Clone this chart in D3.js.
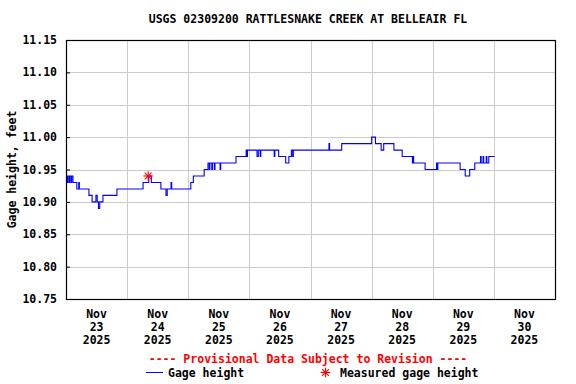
<!DOCTYPE html>
<html>
<head>
<meta charset="utf-8">
<script src="https://cdn.jsdelivr.net/npm/d3@7"></script>
<style>
  body { margin: 0; background: #fff; }
  text { font-family: "DejaVu Sans Mono", monospace; font-weight: bold; font-size: 11.5px; fill: #000; }
</style>
</head>
<body>
<div id="chart"></div>
<script>
// Gage height, read off the plot as step changes
// hours after Nov 23 2025 00:00 -> feet
var stepHours = [0, 0.5, 0.75, 1.25, 1.5, 2, 2.25, 2.75, 4.25, 5, 5.25, 9, 10.25, 11.75, 12.25, 12.75, 13.25, 14.5,
  20, 30.25, 32.5, 33.5, 37.25, 39.25, 39.75, 41.25, 41.5, 49, 50, 54.25, 55.75, 56.25, 56.5, 57.25, 57.5,
  58.25, 58.5, 60.5, 60.75, 66.75, 70.75, 71, 71.25, 75, 75.5, 76.25, 76.5, 81.75, 82, 83.5, 86.25, 87.5,
  88.5, 89, 89.25, 103.25, 103.5, 108.25, 120, 121.5, 123.75, 124.75, 128.75, 132, 136, 136.25, 136.5, 141,
  145.5, 145.75, 146, 154.5, 154.75, 156.75, 158.5, 160.5, 162.75, 163, 163.75, 164, 165, 165.25, 166, 168.25];
var stepValues = [10.94, 10.93, 10.94, 10.93, 10.94, 10.93, 10.94, 10.93, 10.92, 10.93, 10.92, 10.91, 10.90, 10.91, 10.90, 10.89, 10.90, 10.91,
  10.92, 10.93, 10.94, 10.93, 10.92, 10.91, 10.92, 10.93, 10.92, 10.93, 10.94, 10.95, 10.96, 10.95, 10.96, 10.95, 10.96,
  10.95, 10.96, 10.95, 10.96, 10.97, 10.98, 10.97, 10.98, 10.97, 10.98, 10.97, 10.98, 10.97, 10.98, 10.97, 10.96, 10.97,
  10.98, 10.97, 10.98, 10.99, 10.98, 10.99, 11.00, 10.99, 10.98, 10.99, 10.98, 10.97, 10.96, 10.97, 10.96, 10.95,
  10.96, 10.95, 10.96, 10.96, 10.95, 10.94, 10.95, 10.96, 10.97, 10.96, 10.97, 10.96, 10.97, 10.96, 10.97, 10.97];

// field measurement
var measuredHours = [32.25];
var measuredValues = [10.94];

var yTicks = [10.75, 10.80, 10.85, 10.90, 10.95, 11.00, 11.05, 11.10, 11.15];
var dayLabels = ["23", "24", "25", "26", "27", "28", "29", "30"];

var title = "USGS 02309200 RATTLESNAKE CREEK AT BELLEAIR FL";

// Placement
var width = 576, height = 384,
  mLeft = 66, mRight = 21, mTop = 40, mBottom = 85,
  plotW = width - mLeft - mRight,
  plotH = height - mTop - mBottom;

var t0 = new Date(2025, 10, 23);
function hoursToDate(h) { return new Date(t0.getTime() + h * 3600e3); }

var x = d3.scaleTime()
  .domain([t0, new Date(2025, 11, 1)])
  .range([0, plotW]);
var y = d3.scaleLinear()
  .domain([10.75, 11.15])
  .range([plotH, 0]);

var svg = d3.select("#chart")
  .append("svg")
  .attr("width", width)
  .attr("height", height);

svg.append("text")
  .attr("x", 308)
  .attr("y", 23)
  .attr("text-anchor", "middle")
  .text(title);

var plot = svg.append("g")
  .attr("transform", "translate(" + mLeft + "," + mTop + ")");

// grid
var midnights = d3.timeDay.range(d3.timeDay.offset(t0, 1), new Date(2025, 11, 1));
plot.append("g").selectAll("line")
  .data(midnights)
  .enter().append("line")
  .attr("x1", function(d) { return Math.round(x(d)) + 0.5; })
  .attr("x2", function(d) { return Math.round(x(d)) + 0.5; })
  .attr("y1", 0)
  .attr("y2", plotH)
  .attr("stroke", "#cccccc");

plot.append("g").selectAll("line")
  .data(yTicks.slice(1, -1))
  .enter().append("line")
  .attr("x1", 0)
  .attr("x2", plotW)
  .attr("y1", function(d) { return Math.round(y(d)) + 0.5; })
  .attr("y2", function(d) { return Math.round(y(d)) + 0.5; })
  .attr("stroke", "#cccccc");

// y axis (ticks pointing inward)
var yAxis = d3.axisRight(y)
  .tickValues(yTicks)
  .tickSize(4)
  .tickFormat("");
var yg = plot.append("g").call(yAxis);
yg.select(".domain").remove();
yg.selectAll("line").attr("stroke", "#000");

plot.append("g").selectAll("text")
  .data(yTicks)
  .enter().append("text")
  .attr("x", -9)
  .attr("y", function(d) { return y(d) + 4; })
  .attr("text-anchor", "end")
  .text(function(d) { return d3.format(".2f")(d); });

svg.append("text")
  .attr("transform", "translate(16," + (mTop + plotH / 2) + ") rotate(-90)")
  .attr("text-anchor", "middle")
  .text("Gage height, feet");

// x labels at noon of each day
var noons = dayLabels.map(function(d, i) { return d3.timeHour.offset(t0, 24 * i + 12); });
var xl = plot.append("g").selectAll("text")
  .data(noons)
  .enter().append("text")
  .attr("text-anchor", "middle")
  .attr("transform", function(d) { return "translate(" + x(d) + "," + (plotH + 19) + ")"; });
xl.append("tspan").attr("x", 0).attr("y", 0).text("Nov");
xl.append("tspan").attr("x", 0).attr("y", 13).text(function(d, i) { return dayLabels[i]; });
xl.append("tspan").attr("x", 0).attr("y", 26).text("2025");

// gage height line
var series = stepHours.map(function(h, i) { return { date: hoursToDate(h), value: stepValues[i] }; });
var line = d3.line()
  .x(function(d) { return x(d.date); })
  .y(function(d) { return y(d.value); })
  .curve(d3.curveStepAfter);

plot.append("path")
  .datum(series)
  .attr("d", line)
  .attr("fill", "none")
  .attr("stroke", "#0000ff")
  .attr("stroke-width", 1.1);

// asterisk symbol
function asterisk(g, cx, cy, r) {
  [0, 45, 90, 135].forEach(function(a) {
    var rad = a * Math.PI / 180;
    g.append("line")
      .attr("x1", cx - r * Math.cos(rad)).attr("y1", cy - r * Math.sin(rad))
      .attr("x2", cx + r * Math.cos(rad)).attr("y2", cy + r * Math.sin(rad))
      .attr("stroke", "#ff0000")
      .attr("stroke-width", 1.1);
  });
}

measuredHours.forEach(function(h, i) {
  asterisk(plot, x(hoursToDate(h)), y(measuredValues[i]), 4.8);
});

// frame
plot.append("rect")
  .attr("x", 0.5)
  .attr("y", 0.5)
  .attr("width", plotW)
  .attr("height", plotH)
  .attr("fill", "none")
  .attr("stroke", "#000")
  .attr("stroke-width", 1.2);

// footer
svg.append("text")
  .attr("x", 308)
  .attr("y", 363)
  .attr("text-anchor", "middle")
  .style("fill", "#ff0000")
  .text("---- Provisional Data Subject to Revision ----");

svg.append("line")
  .attr("x1", 146).attr("x2", 163)
  .attr("y1", 372.5).attr("y2", 372.5)
  .attr("stroke", "#0000ff");
svg.append("text")
  .attr("x", 168)
  .attr("y", 377)
  .text("Gage height");

asterisk(svg, 325.5, 372.5, 4.8);
svg.append("text")
  .attr("x", 340)
  .attr("y", 377)
  .text("Measured gage height");
</script>
</body>
</html>
